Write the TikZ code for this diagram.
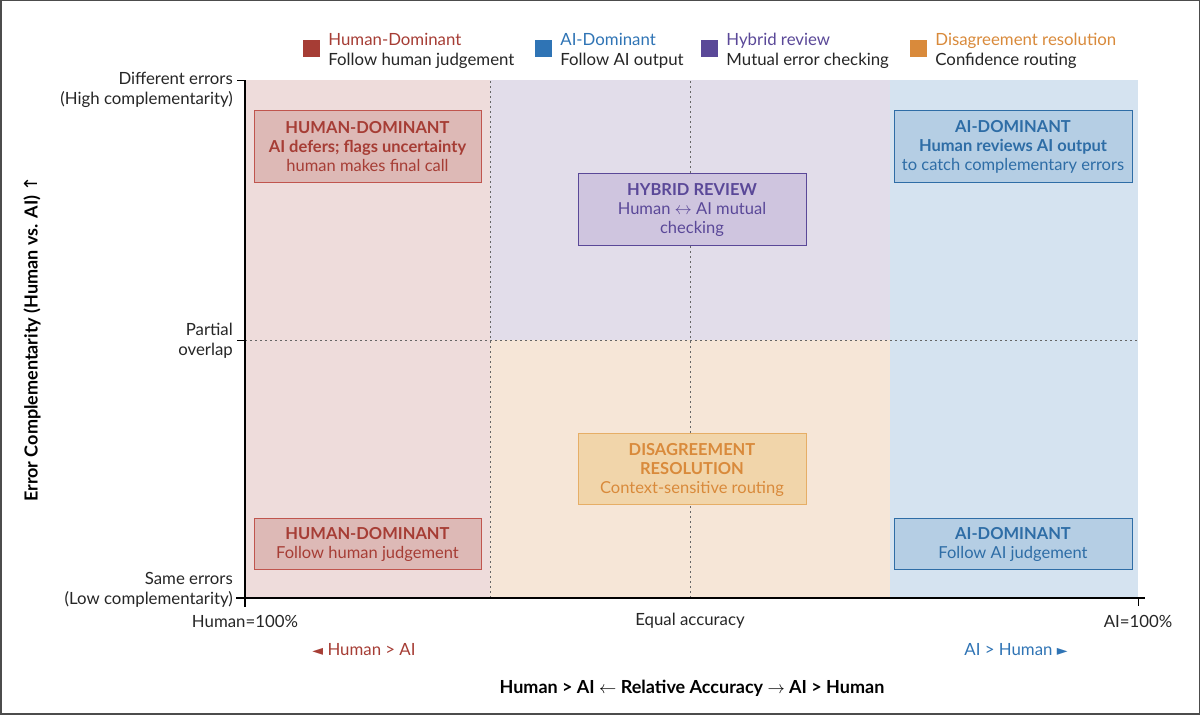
\documentclass[tikz,border=0pt]{standalone}
\usepackage{fontspec}
\setmainfont{Lato}
\newfontfamily\symfont{DejaVu Sans}
\usepackage{xcolor}
\usetikzlibrary{positioning}

\definecolor{humred}{HTML}{A63D35}
\definecolor{humbg}{HTML}{EEDCDB}
\definecolor{humfill}{HTML}{DDB9B6}
\definecolor{humline}{HTML}{C0554E}
\definecolor{aiblue}{HTML}{2F74B5}
\definecolor{aibg}{HTML}{D5E3F0}
\definecolor{aifill}{HTML}{B5CEE4}
\definecolor{ailine}{HTML}{2E6DA6}
\definecolor{hybpurple}{HTML}{5A4898}
\definecolor{hybbg}{HTML}{E2DDEA}
\definecolor{hybfill}{HTML}{CFC5DF}
\definecolor{disorange}{HTML}{D98A3B}
\definecolor{disbg}{HTML}{F6E6D7}
\definecolor{disfill}{HTML}{F1D5AA}
\definecolor{disline}{HTML}{E6AE66}

\begin{document}
\begin{tikzpicture}[x=1pt, y=1pt,
  txt/.style={font=\fontsize{16.8}{19.5}\selectfont, inner sep=0pt, text=black!85},
  zbox/.style={rectangle, draw=#1, line width=1pt, text=#1, align=center,
               font=\fontsize{16.5}{19}\selectfont, inner sep=0pt},
  legsq/.style={rectangle, fill=#1, minimum size=17pt, inner sep=0pt},
  legtx/.style={txt, align=left, right=8pt of #1, yshift=-2.5pt},
  sep/.style={gray!80!black, line width=0.8pt, dash pattern=on 2pt off 3pt},
  axis/.style={black, line width=1.2pt},
  ttl/.style={txt, text=black, font=\fontsize{18}{21}\selectfont\bfseries},
  node distance=8pt
]
  % page and frame
  \useasboundingbox (0,0) rectangle (1200,715);
  \fill[white] (0,0) rectangle (1200,715);
  \draw[gray!60!black, line width=3pt] (0,0) rectangle (1200,715);

  % quadrant backgrounds
  \fill[humbg]  (245,117) rectangle (490,635);
  \fill[hybbg]  (490,375) rectangle (890,635);
  \fill[disbg]  (490,117) rectangle (890,375);
  \fill[aibg]   (890,117) rectangle (1138,635);

  % dotted guides
  \draw[sep] (490,117) -- (490,635);
  \draw[sep] (690,117) -- (690,635);
  \draw[sep] (245,375) -- (1138,375);

  % strategy boxes
  \node[zbox=humline, fill=humfill, minimum width=227pt, minimum height=72pt]
    (hdtop) at (367.5,568) {\textcolor{humred}{\textbf{HUMAN-DOMINANT}}\\
    \textcolor{humred}{\textbf{AI defers; flags uncertainty}}\\
    \textcolor{humred}{human makes final call}};
  \node[zbox=hybpurple, fill=hybfill, minimum width=228pt, minimum height=72pt]
    (hyb) at (692,505) {\textbf{HYBRID REVIEW}\\Human $\leftrightarrow$ AI mutual\\checking};
  \node[zbox=ailine, fill=aifill, minimum width=238pt, minimum height=72pt]
    (aitop) at (1013,568) {\textbf{AI-DOMINANT}\\\textbf{Human reviews AI output}\\to catch complementary errors};
  \node[zbox=disline, fill=disfill, minimum width=228pt, minimum height=71pt, text=disorange]
    (dis) at (692,245.5) {\textbf{DISAGREEMENT}\\\textbf{RESOLUTION}\\Context-sensitive routing};
  \node[zbox=humline, fill=humfill, minimum width=227pt, minimum height=51pt, text=humred]
    (hdbot) at (367.5,170.5) {\textbf{HUMAN-DOMINANT}\\Follow human judgement};
  \node[zbox=ailine, fill=aifill, minimum width=238pt, minimum height=51pt, text=ailine]
    (aibot) at (1013,170.5) {\textbf{AI-DOMINANT}\\Follow AI judgement};

  % axes
  \coordinate (o) at (245,117);
  \coordinate (ytop) at (245,635);
  \coordinate (xend) at (1145,117);
  \draw[axis] (245,108) -- (ytop);
  \draw[axis] (236,117) -- (xend);
  \draw[axis, line width=0.8pt] (237,635) -- (ytop);
  \draw[axis, line width=0.8pt] (237,375) -- (245,375);
  \draw[axis, line width=0.8pt] (1138,117) -- (1138,109);

  % tick labels
  \node[txt, align=right, anchor=east] (ydiff) at (233,625) {Different errors\\(High complementarity)};
  \node[txt, align=right, anchor=east] (ypart) at (233,374) {Partial\\overlap};
  \node[txt, align=right, anchor=east] (ysame) at (233,125) {Same errors\\(Low complementarity)};
  \node[txt] (xhum) at (245,94) {Human=100\%};
  \node[txt] (xeq)  at (690,94) {Equal accuracy};
  \node[txt] (xai)  at (1138,94) {AI=100\%};
  \node[txt, text=humred] (lefthint) at (364,65) {{\symfont\fontsize{14}{16}\selectfont ◄} Human > AI};
  \node[txt, text=aiblue] (righthint) at (1016,65) {AI > Human {\symfont\fontsize{14}{16}\selectfont ►}};

  % axis titles
  \node[ttl] (xtitle) at (692,27)
    {Human > AI $\leftarrow$ Relative Accuracy $\rightarrow$ AI > Human};
  \node[ttl, rotate=90] (ytitle) at (32,376)
    {Error Complementarity (Human vs. AI) {\symfont\mdseries ↑}};

  % legend
  \node[legsq=humred] (sqhum) at (311.5,666.5) {};
  \node[legtx=sqhum] (lghum) {\textcolor{humred}{Human-Dominant}\\Follow human judgement};
  \node[legsq=aiblue] (sqai) at (543.5,666.5) {};
  \node[legtx=sqai] (lgai) {\textcolor{aiblue}{AI-Dominant}\\Follow AI output};
  \node[legsq=hybpurple] (sqhyb) at (709.5,666.5) {};
  \node[legtx=sqhyb] (lghyb) {\textcolor{hybpurple}{Hybrid review}\\Mutual error checking};
  \node[legsq=disorange] (sqdis) at (918.5,666.5) {};
  \node[legtx=sqdis] (lgdis) {\textcolor{disorange}{Disagreement resolution}\\Confidence routing};
\end{tikzpicture}
\end{document}
